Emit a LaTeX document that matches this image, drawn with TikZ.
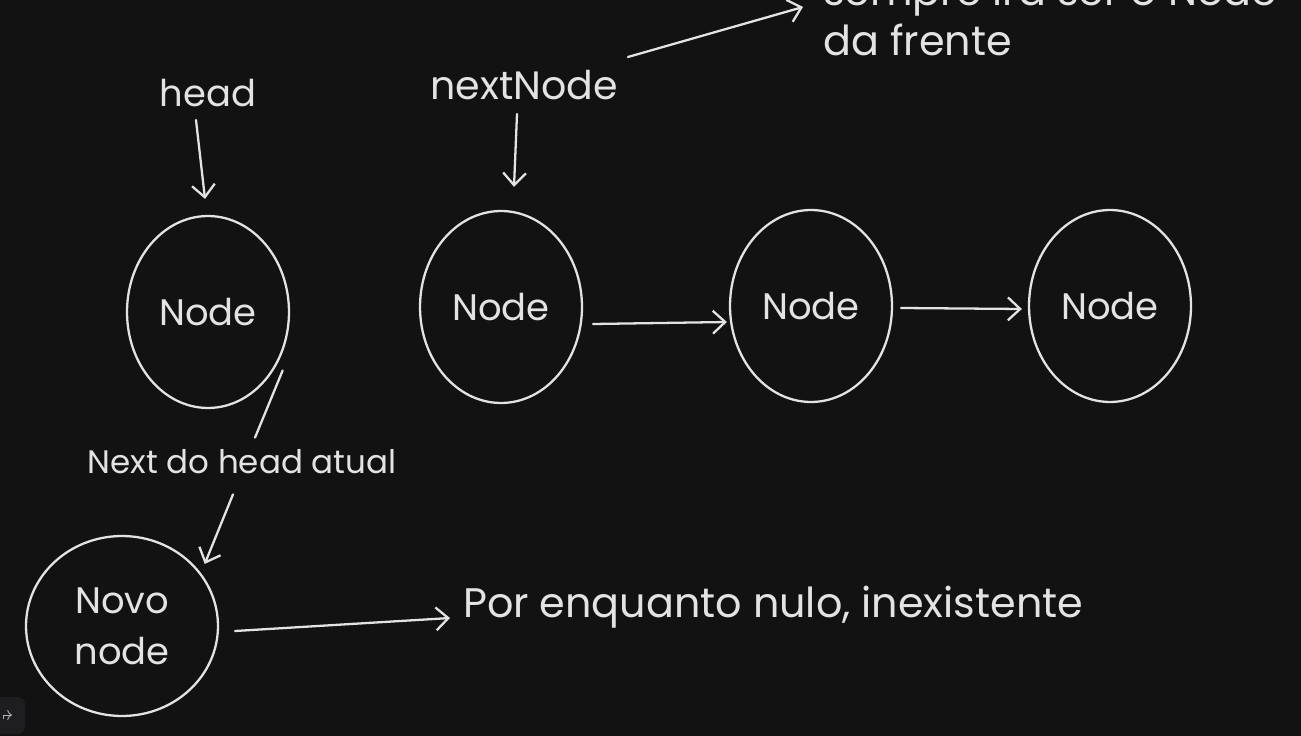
\documentclass[tikz,border=0pt]{standalone}
\usepackage{fontspec}
\setmainfont{Poppins}
\usetikzlibrary{shapes.geometric,arrows.meta,calc,positioning}
\definecolor{bgDark}{HTML}{121212}
\definecolor{chalk}{HTML}{E3E3E3}
\definecolor{btnGray}{HTML}{1E1E21}

\begin{document}
\begin{tikzpicture}[x=0.02cm,y=-0.02cm,
    every node/.style={text=chalk,font=\fontsize{21}{29}\selectfont},
    big/.style={font=\fontsize{23.5}{28}\selectfont},
    lnode/.style={draw=chalk,ellipse,line width=1.3pt,inner sep=0pt,minimum width=3.24cm,minimum height=3.84cm},
    arr/.style={draw=chalk,line width=1.3pt,line cap=round,-{Straight Barb[length=7pt,width=13pt]}},
    stroke/.style={draw=chalk,line width=1.3pt,line cap=round}]

      % the dark canvas
      \fill[bgDark] (0,0) rectangle (1301,736);
      \useasboundingbox (0,0) rectangle (1301,736);
      \fill[btnGray, rounded corners=4pt] (-10,697) rectangle (25,734);
      \draw[gray!60, line width=0.5pt, ->] (3,719) -- (3,715) -- (12,715);

      % draw the list nodes
      \foreach \nx/\ny [count=\ni] in {208/312,501/307,811/306,1110/306}
        \node[lnode] (n\ni) at (\nx,\ny) {Node};

      \node[lnode,minimum width=3.84cm,minimum height=3.6cm,align=center] (novo) at (122,626) {Novo\\node};

      % the labels
      \node (hd) at (208,93) {head};
      \node[font=\fontsize{22.5}{27}\selectfont] (nxt) at (524,85) {nextNode};
      \node[font=\fontsize{18.5}{22}\selectfont] (nda) at (242,462) {Next do head atual};
      \node[big,anchor=west] (nulo) at (457,607) {Por enquanto nulo, inexistente};
      \node[big,anchor=base west] (semp) at (817,6) {sempre irá ser o Node};
      \node[big,anchor=base west] (frente) at (817,56) {da frente};

      % pointers
      \draw[arr] ($(hd.south)+(-12,7)$) -- ($(n1.north)+(-3,-16)$);
      \draw[arr] ($(nxt.south)+(-7,8)$) -- ($(n2.north)+(13,-23)$);
      \draw[arr] ($(nxt.east)+(4,-28)$) -- ($(semp.base west)+(-14,1)$);

      % links between nodes
      \draw[arr] ($(n2.east)+(10,17)$) -- ($(n3.west)+(-2,16)$);
      \draw[arr] ($(n3.east)+(8,2)$) -- ($(n4.west)+(-6,3)$);

      % the new node
      \draw[stroke] ($(n1.-35)+(4,9)$) -- ($(nda.north)+(13,-6)$);
      \draw[arr] ($(nda.south)+(-9,14)$) -- ($(novo.37)+(7,-5)$);
      \draw[arr] ($(novo.east)+(16,5)$) -- ($(nulo.west)+(-7,11)$);

\end{tikzpicture}
\end{document}
